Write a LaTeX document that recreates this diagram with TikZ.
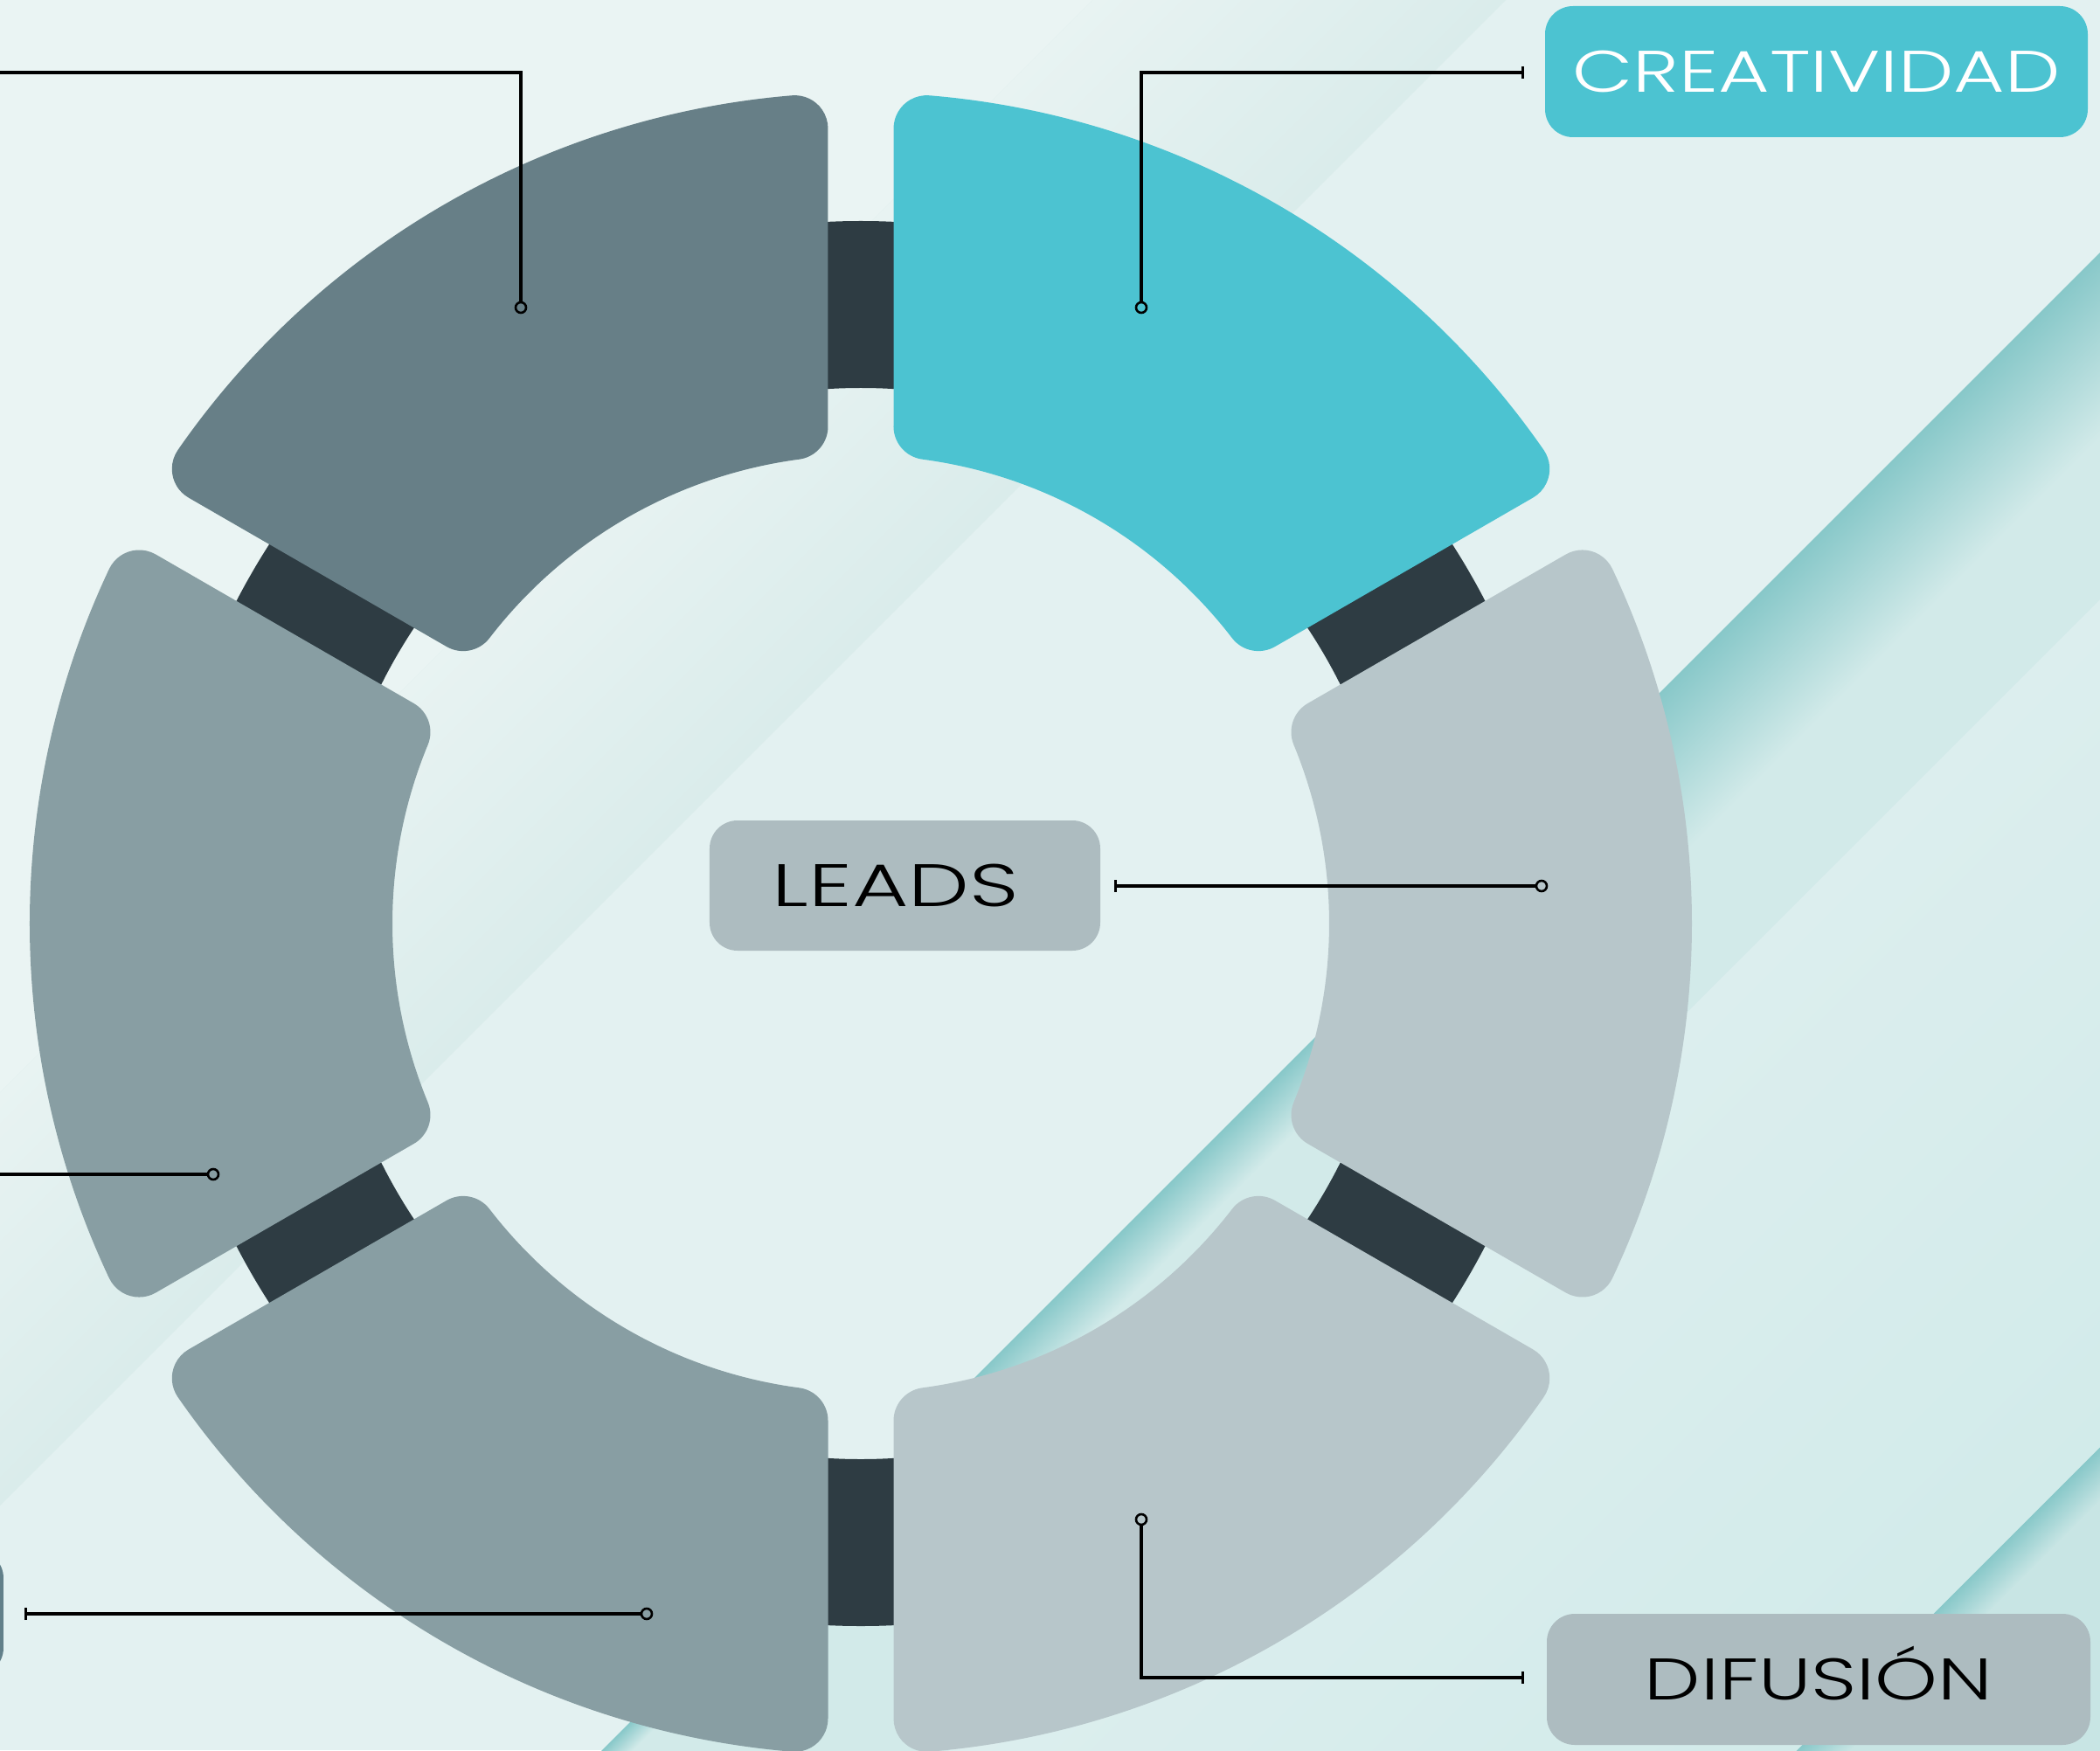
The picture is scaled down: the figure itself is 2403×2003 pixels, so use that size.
\documentclass[tikz,border=0pt]{standalone}
\usepackage{fontspec}
\setmainfont{Poppins}
\newfontfamily\lblfont{Poppins Light}
\usetikzlibrary{arrows.meta}
\definecolor{bgbase}{HTML}{E3F1F1}
\definecolor{bgtl}{HTML}{EAF4F3}
\definecolor{bandlight}{HTML}{E8F3F2}
\definecolor{banddark}{HTML}{DAECEB}
\definecolor{lowA}{HTML}{D2EAE9}
\definecolor{lowB}{HTML}{DCEEEE}
\definecolor{lowC}{HTML}{D2EBEA}
\definecolor{lowD}{HTML}{C8E5E4}
\definecolor{stripe}{HTML}{88C8C9}
\definecolor{ringdark}{HTML}{2E3C43}
\definecolor{segteal}{HTML}{4CC3D1}
\definecolor{seglight}{HTML}{B7C6CA}
\definecolor{segmid}{HTML}{889EA3}
\definecolor{segdark}{HTML}{677F87}
\definecolor{boxgrey}{HTML}{ADBCC0}
\definecolor{boxslate}{HTML}{62808A}
\newcommand\capfit[3]{\resizebox{#1pt}{#2pt}{\lblfont\raisebox{0pt}[\fontcharht\font`I][0pt]{#3}}}
\tikzset{
  leader/.style={draw=black, line width=3.2pt},
  dotn/.style={circle, draw=black, line width=2.6pt, minimum size=12pt, inner sep=0pt},
  lbox/.style={rounded corners=32pt, inner sep=0pt},
  tick/.style={-{Bar[width=14pt]}}
}
\begin{document}
\begin{tikzpicture}[x=1pt,y=1pt]
\useasboundingbox (-985,-946) rectangle (1418,1057);
\clip (-985,-946) rectangle (1418,1057);
% background
\fill[bgbase] (-985,-946) rectangle (1418,1057);
\begin{scope}[transform canvas={shift={(0pt,792pt)},rotate=45}]
  \fill[bgtl] (-3000,0) rectangle (3000,3000);
\end{scope}
\begin{scope}[transform canvas={shift={(0pt,319pt)},rotate=45}]
  \shade[top color=bandlight, bottom color=banddark] (-3000,0) rectangle (3000,334);
\end{scope}
\begin{scope}[transform canvas={shift={(0pt,-650pt)},rotate=45}]
  \fill[lowA] (-3000,0) rectangle (3000,-281);
  \shade[top color=lowB, bottom color=lowC] (-3000,-281) rectangle (3000,-967);
  \fill[lowD] (-3000,-967) rectangle (3000,-3000);
  \shade[top color=stripe, bottom color=lowD] (-3000,-967) rectangle (3000,-1010);
  \shade[top color=stripe, bottom color=lowA] (-467,0) rectangle (21,-25);
  \shade[top color=stripe, bottom color=lowA] (21,0) rectangle (813,-60);
  \shade[top color=stripe, bottom color=lowA] (813,0) rectangle (2100,-150);
\end{scope}
% dark ring
\fill[ringdark, even odd rule] (0,0) circle[radius=804pt] (0,0) circle[radius=613pt];
% segments
\foreach \r/\c in {90/segteal, 30/seglight, -30/seglight, -90/segmid, -150/segmid, 150/segdark}{
  \fill[\c, rotate=\r] (569.01pt,-37.5pt) -- (909.87pt,-37.5pt)
    arc[start angle=90, end angle=-4.743, radius=38pt]
    arc[start angle=-4.743, end angle=-55.257, radius=951pt]
    arc[start angle=-55.257, end angle=-150, radius=38pt]
    -- (-56.229:570.24pt)
    arc[start angle=-150, end angle=-232.442, radius=38pt]
    arc[start angle=-52.442, end angle=-7.558, radius=536pt]
    arc[start angle=172.442, end angle=90, radius=38pt]
    -- cycle;
}
% label boxes
\node[lbox, fill=segteal, text=white, minimum width=621pt, minimum height=150pt] (creat) at (1093.5,975) {\capfit{558}{47}{CREATIVIDAD}};
\node[lbox, fill=boxgrey, text=black, minimum width=447pt, minimum height=149pt] (leads) at (50.5,43.5) {\makebox[303pt][l]{\capfit{282}{48}{LEADS}}};
\node[lbox, fill=boxgrey, text=black, minimum width=622pt, minimum height=150pt] (difu) at (1096,-865) {\capfit{398}{47}{DIFUSIÓN}};
\node[lbox, fill=boxslate, minimum width=600pt, minimum height=144pt] (lbox5) at (-1281,-789) {};
% leaders
\node[dotn] (d1) at (-389,705) {};
\coordinate (c1) at (-389,974);
\coordinate (e1) at (-1000,974);
\draw[leader] (d1) -- (c1) -- (e1);
\node[dotn] (d2) at (321,705) {};
\coordinate (c2) at (321,974);
\coordinate (e2) at (759,974);
\draw[leader, tick] (d2) -- (c2) -- (e2);
\node[dotn] (d3) at (779,43) {};
\coordinate (e3) at (290,43);
\draw[leader, tick] (d3) -- (e3);
\node[dotn] (d4) at (-741,-287) {};
\coordinate (e4) at (-1000,-287);
\draw[leader] (d4) -- (e4);
\node[dotn] (d5) at (-245,-790) {};
\coordinate (e5) at (-957,-790);
\draw[leader, tick] (d5) -- (e5);
\node[dotn] (d6) at (321,-682) {};
\coordinate (c6) at (321,-863);
\coordinate (e6) at (759,-863);
\draw[leader, tick] (d6) -- (c6) -- (e6);
\end{tikzpicture}
\end{document}
